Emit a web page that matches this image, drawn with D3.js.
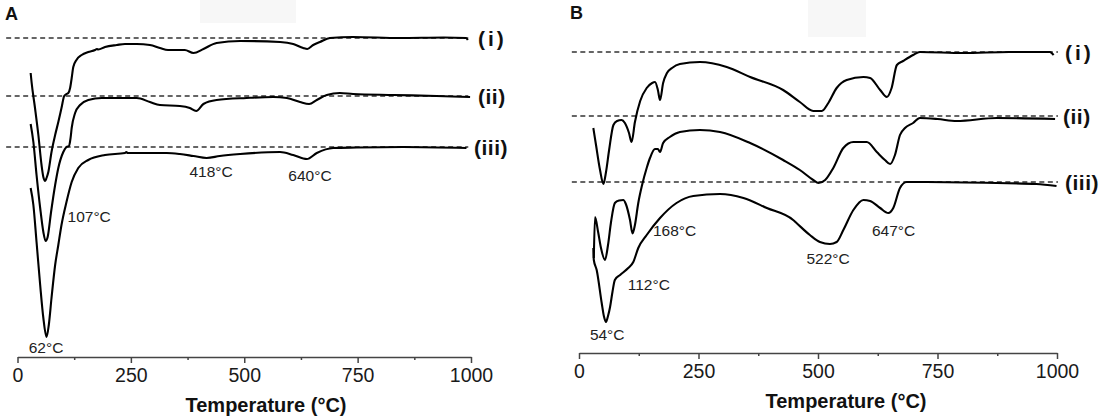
<!DOCTYPE html>
<html>
<head>
<meta charset="utf-8">
<script src="https://cdn.jsdelivr.net/npm/d3@7"></script>
<style>
    body { margin: 0; background: #fff; }
    svg { display: block; font-family: "Liberation Sans", Arial, sans-serif; }
</style>
</head>
<body>
<script>
"use strict";

// tick values shared by both panels
const majorTicks = [0, 250, 500, 750, 1000];
const minorTicks = [125, 375, 625, 875];
const seriesNames = ["(i)", "(ii)", "(iii)"];

// panel A, [temperature, signal]
const aCurve1 = [[29,284],[31,275],[38.6,249],[46,222],[53,192],[57,180],[61,176],[64,179],[68,185],[75,205],[83,222],[90,235],[97,249],[103,261],[108,263],[112,264],[116,269],[119.5,279],[123,290],[130,297],[141.5,302],[156,305],[171,307],[175,308],[178,307.5],[193,310],[219,312],[237,313],[263,313],[292,312],[314,309],[332,307],[369,307],[388,304],[410,308],[439,314],[491,316],[579,315],[608,313],[630,309],[639,308],[652,312],[667,315],[689,319],[740,320],[843,319],[940,319.5],[989,319],[993,317]];
const aCurve2 = [[29,233],[35,215],[42,182],[50,149],[57,125],[62,116],[66.5,120],[74,145],[83,172],[90,189],[101,205],[108,210],[113.5,211],[117,219],[119.5,229],[127,244],[138,252],[156,257],[186,259],[219,259],[263,259],[292,255],[314,252],[358,251],[380,249],[394,246],[410,253],[439,257],[505,259],[564,260],[594,259],[623,255],[643,253],[660,257],[682,262],[711,264],[740,263],[830,262],[924,261],[998,260]];
const aCurve3 = [[29,169],[35,152],[42,115],[50,72],[57,39],[64,20],[69,32],[75,59],[83,92],[90,112],[97,132],[108,155],[119.5,175],[134,189],[156,197],[193,202],[237,204],[240,205],[243,204],[263,204],[329,204],[358,203],[388,201],[417,199],[446,201],[491,203],[579,205],[608,202],[638,198],[660,204],[696,209],[748,209.5],[850,210],[990,209]];
const aBaselines = [319, 261, 210];
const aPeakLabels = ["62°C", "107°C", "418°C", "640°C"];
const aPeakAt = [[63,10],[158,141],[427,186],[645,182]];

// panel B, [temperature, signal]
const bCurve1 = [[30,225],[35.6,208],[44,183],[51,169],[56.5,181],[63,203],[72,228],[79.5,232],[89,233],[96,230],[104.6,220],[110,211],[117,231],[128,252],[141.6,265],[153,270],[159,271],[165,263],[169.5,253],[176,270],[184,280],[194.6,285],[211,289],[253,291],[309,286],[358,276],[427,263],[462,251],[490,242],[508,242],[521.6,250],[539,265],[560,273],[595,276],[609,275],[630,263],[644,256],[654,265],[665,288],[678,292],[699,298],[713,301],[804,300],[900,301],[985,301],[993,298]];
const bCurve2 = [[31,95],[33.5,136],[40,121],[46,105],[54.4,93],[60.7,108],[67,131],[75,150],[83.7,152.5],[92.7,153],[98,149],[106.7,133],[112,119.5],[117,128],[124,150],[132,168],[141.6,185],[148.5,195],[159,204],[165,204],[169.5,201],[176,210],[190,216],[211,221],[253,223],[295,221],[358,210],[427,193],[462,183],[490,173],[501,170],[515,173],[532,185],[553,205],[574,211],[602,211],[623,201],[640,193],[651,189],[661,198],[671.5,218],[682,225],[699,230],[713,235],[750,234],[790,232],[874,235],[996,234]];
const bCurve3 = [[30,105],[31,93],[37,83],[47.5,50],[52,37],[56.5,31],[60.7,37],[65,46],[70,61],[75,73],[86,78],[103,85],[113.6,91],[124,105],[141.6,118],[169.5,135],[204,150],[239,157],[295,159],[344,155],[393,145],[448,133],[455,130],[483,118],[504,111],[525,109],[539,111],[553,123],[574,143],[595,153],[609,152],[630,145],[647,140],[657.5,145],[671.5,165],[685.5,171],[727,171],[874,170],[957,169],[999,167]];
const bBaselines = [301, 237, 171];
const bPeakLabels = ["54°C", "112°C", "168°C", "522°C", "647°C"];
const bPeakAt = [[59,19],[146,69],[200,123],[521,95],[658,123]];

(function(){
    const measurements = { width: 1106, height: 419 };

    const svg = d3.select("body").append("svg")
        .attr("width", measurements.width)
        .attr("height", measurements.height);

    // faint scan patches at the top
    svg.append("rect").attr("x", 200).attr("y", 0).attr("width", 96).attr("height", 23).attr("fill", "#f7f7f7");
    svg.append("rect").attr("x", 808).attr("y", 0).attr("width", 58).attr("height", 37).attr("fill", "#f7f7f7");

    makePanel({
        letter: "A", letterX: 5, letterY: 20,
        xRange: [17.5, 471], yRange: [357, 27],
        curves: [aCurve1, aCurve2, aCurve3],
        baselines: aBaselines, dashFrom: -25, dashTo: 994,
        seriesX: [478, 478, 474],
        peakLabels: aPeakLabels, peakAt: aPeakAt,
        titleX: 266
    });

    makePanel({
        letter: "B", letterX: 570, letterY: 19,
        xRange: [579, 1057], yRange: [353, 23],
        curves: [bCurve1, bCurve2, bCurve3],
        baselines: bBaselines, dashFrom: -15, dashTo: 1002,
        seriesX: [1065, 1063, 1065],
        peakLabels: bPeakLabels, peakAt: bPeakAt,
        titleX: 846
    });

    function makePanel(p) {
        const g = svg.append("g");

        let scaleX = d3.scaleLinear().domain([0, 1000]).range(p.xRange);
        let scaleY = d3.scaleLinear().domain([0, 330]).range(p.yRange);
        const axisY = p.yRange[0];

        // dashed reference levels
        p.baselines.forEach(function(b) {
            g.append("line")
                .attr("x1", scaleX(p.dashFrom)).attr("x2", scaleX(p.dashTo))
                .attr("y1", scaleY(b)).attr("y2", scaleY(b))
                .attr("stroke", "#333")
                .attr("stroke-width", 1.4)
                .attr("stroke-dasharray", "5,3.5");
        });

        // curves
        const line = d3.line()
            .x(d => scaleX(d[0]))
            .y(d => scaleY(d[1]))
            .curve(d3.curveMonotoneX);

        p.curves.forEach(function(c) {
            g.append("path")
                .attr("d", line(c))
                .attr("fill", "none")
                .attr("stroke", "#000")
                .attr("stroke-width", 2.1)
                .attr("stroke-linejoin", "round");
        });

        // x axis
        let xAxis = d3.axisBottom(scaleX)
            .tickValues(majorTicks)
            .tickFormat(d3.format("d"))
            .tickSize(6)
            .tickSizeOuter(0)
            .tickPadding(5);
        const ax = g.append("g")
            .attr("transform", "translate(0," + axisY + ")")
            .call(xAxis);
        ax.select(".domain").attr("stroke", "#444").attr("stroke-width", 1.5);
        ax.selectAll(".tick line").attr("stroke", "#444").attr("stroke-width", 1.5);
        ax.selectAll(".tick text")
            .attr("fill", "#1a1a1a")
            .style("font-size", "19.5px")
            .style("font-family", "Liberation Sans, Arial, sans-serif");

        let minorAxis = d3.axisBottom(scaleX)
            .tickValues(minorTicks)
            .tickSize(3)
            .tickFormat("");
        const mx = g.append("g")
            .attr("transform", "translate(0," + axisY + ")")
            .call(minorAxis);
        mx.select(".domain").remove();
        mx.selectAll(".tick line").attr("stroke", "#444").attr("stroke-width", 1.5);

        // axis title
        g.append("text")
            .attr("x", p.titleX)
            .attr("y", axisY + 55)
            .attr("text-anchor", "middle")
            .attr("font-size", 20)
            .attr("font-weight", "bold")
            .attr("fill", "#111")
            .text("Temperature (°C)");

        // panel letter
        g.append("text")
            .attr("x", p.letterX)
            .attr("y", p.letterY)
            .attr("font-size", 18)
            .attr("font-weight", "bold")
            .attr("fill", "#111")
            .text(p.letter);

        // series labels
        seriesNames.forEach(function(name, i) {
            g.append("text")
                .attr("x", p.seriesX[i])
                .attr("y", scaleY(p.baselines[i]))
                .attr("dy", "0.36em")
                .attr("font-size", 21)
                .attr("font-weight", "bold")
                .attr("letter-spacing", i === 0 ? 3 : 0.5)
                .attr("fill", "#111")
                .text(name);
        });

        // peak temperatures
        p.peakLabels.forEach(function(t, i) {
            g.append("text")
                .attr("x", scaleX(p.peakAt[i][0]))
                .attr("y", scaleY(p.peakAt[i][1]))
                .attr("dy", "0.36em")
                .attr("text-anchor", "middle")
                .attr("font-size", 15.5)
                .attr("fill", "#222")
                .text(t);
        });
    }
})();
</script>
</body>
</html>
